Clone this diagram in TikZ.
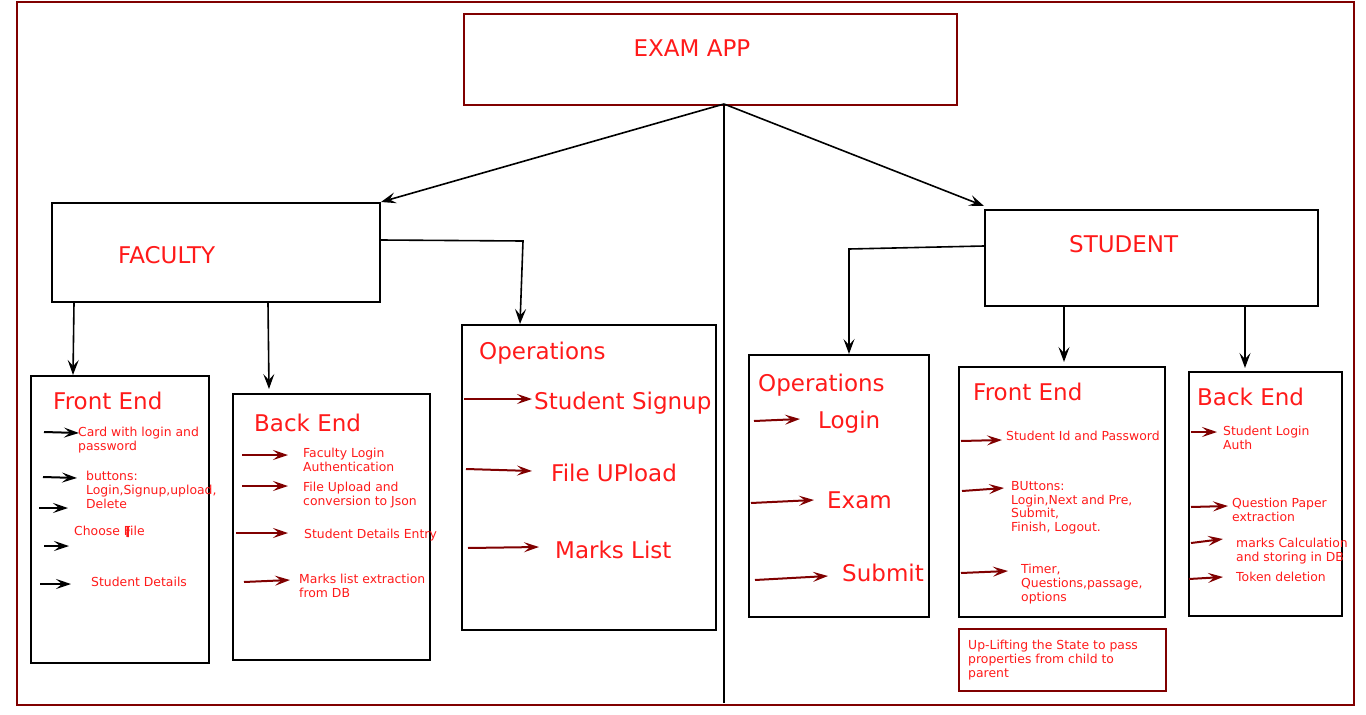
\documentclass[tikz,border=0pt]{standalone}
\usepackage{fontspec}
\setmainfont{DejaVu Sans}
\usepackage{xcolor}
\usetikzlibrary{arrows.meta}

\begin{document}
\begin{tikzpicture}[x=1pt, y=-1pt,
    box/.style={draw=black, line width=2pt, inner sep=0pt},
    redbox/.style={draw=darkred, line width=2pt, inner sep=0pt},
    title/.style={text=txtred, font=\fontsize{23}{27}\selectfont, inner sep=0pt, anchor=base west},
    note/.style={text=txtred, font=\fontsize{12.4}{13.8}\selectfont, inner sep=0pt, anchor=north west, align=left},
    link/.style={line width=1.6pt, -{Stealth[length=15pt, width=11pt, inset=6pt]}},
    tick/.style={line width=2pt, darkred, -{Stealth[length=15pt, width=10pt, inset=6pt]}}]

    % 色の設定
    \definecolor{darkred}{HTML}{800000}
    \definecolor{txtred}{HTML}{FF1A1A}
    \useasboundingbox (0,0) rectangle (1366,715);

    % 外枠
    \draw[darkred, line width=2pt] (17,2) rectangle (1354,705);

    % 上の三つの箱
    \node[redbox, minimum width=493pt, minimum height=91pt] (app) at (710.5,59.5) {};
    \node[title, anchor=base] (appT) at (692,56.4) {EXAM APP};
    \node[box, minimum width=328pt, minimum height=99pt] (fac) at (216,252.5) {};
    \node[title] (facT) at (118,263.4) {FACULTY};
    \node[box, minimum width=333pt, minimum height=96pt] (stu) at (1151.5,258) {};
    \node[title] (stuT) at (1069,252.4) {STUDENT};

    % 下の箱 (FACULTY 側)
    \node[box, minimum width=178pt, minimum height=287pt] (ffront) at (120,519.5) {};
    \node[title] (ffrontT) at (53,409.4) {Front End};
    \node[box, minimum width=197pt, minimum height=266pt] (fback) at (331.5,527) {};
    \node[title] (fbackT) at (254,431.4) {Back End};
    \node[box, minimum width=254pt, minimum height=305pt] (fops) at (589,477.5) {};
    \node[title] (fopsT) at (479,359.4) {Operations};

    % 下の箱 (STUDENT 側)
    \node[box, minimum width=180pt, minimum height=262pt] (sops) at (839,486) {};
    \node[title] (sopsT) at (758,391.4) {Operations};
    \node[box, minimum width=206pt, minimum height=250pt] (sfront) at (1062,492) {};
    \node[title] (sfrontT) at (973,400.4) {Front End};
    \node[box, minimum width=153pt, minimum height=244pt] (sback) at (1265.5,494) {};
    \node[title] (sbackT) at (1197,405.4) {Back End};
    \node[redbox, minimum width=207pt, minimum height=62pt] (lift) at (1062.5,660) {};
    \node[note] (liftT) at (968,640) {Up-Lifting the State to pass\\properties from child to\\parent};

    % 中央の縦線と上からの矢印
    \coordinate (appfoot) at (724,104);
    \coordinate (axisend) at (724,703);
    \draw[line width=2pt] (appfoot) -- (axisend);
    \draw[link] (appfoot) -- (fac.north east);
    \draw[link] (appfoot) -- ([yshift=3pt]stu.north west);

    % FACULTY からの矢印
    \coordinate (fbend) at (523,241);
    \draw[link] ([xshift=23pt]fac.south west) -- ([xshift=43pt]ffront.north west);
    \draw[link] ([xshift=217pt]fac.south west) -- ([xshift=37pt, yshift=4pt]fback.north west);
    \draw[link] ([yshift=12.5pt]fac.east) -- (fbend) -- ([xshift=59pt]fops.north west);

    % STUDENT からの矢印
    \coordinate (sbend) at (849,249);
    \draw[link] ([yshift=12pt]stu.west) -- (sbend) -- ([xshift=101pt]sops.north west);
    \draw[link] ([xshift=80pt]stu.south west) -- ([xshift=106pt, yshift=4pt]sfront.north west);
    \draw[link] ([xshift=261pt]stu.south west) -- ([xshift=57pt, yshift=3pt]sback.north west);

    % FACULTY の Front End (黒い矢印)
    \foreach \n/\xa/\ya/\xb/\yb in {1/44/432/79/433, 2/43/477/77/478, 3/39/508/68/508, 4/44/546/69/546, 5/40/584/71/584}{
        \coordinate (ff\n a) at (\xa,\ya);
        \coordinate (ff\n b) at (\xb,\yb);
        \draw[tick, black] (ff\n a) -- (ff\n b);
    }
    \foreach \n/\xt/\yt/\txt in {1/78/432/{Card with login and\\password}, 2/86/476/{buttons:\\Login,Signup,upload,\\Delete}, 3/74/531/{Choose File}, 4/91/582/{Student Details}}
        \node[note] (ff\n t) at (\xt,\yt-5) {\txt};
    \draw[txtred, line width=2.5pt] (128,527) -- (127.5,537); % カーソル

    % FACULTY の Back End
    \foreach \n/\xa/\ya/\xb/\yb/\xt/\yt/\txt in {1/242/455/288/455/303/453/{Faculty Login\\Authentication}, 2/242/486/288/486/303/487/{File Upload and\\conversion to Json}, 3/236/533/288/533/304/534/{Student Details Entry}, 4/244/582/290/580/299/579/{Marks list extraction\\from DB}}{
        \coordinate (fb\n a) at (\xa,\ya);
        \coordinate (fb\n b) at (\xb,\yb);
        \draw[tick] (fb\n a) -- (fb\n b);
        \node[note] (fb\n t) at (\xt,\yt-5) {\txt};
    }

    % FACULTY の Operations
    \foreach \n/\xa/\ya/\xb/\yb/\xt/\yt/\txt in {1/464/399/532/399/534/401/{Student Signup}, 2/466/469/532/471/551/473/{File UPload}, 3/468/548/539/547/555/550/{Marks List}}{
        \coordinate (fo\n a) at (\xa,\ya);
        \coordinate (fo\n b) at (\xb,\yb);
        \draw[tick] (fo\n a) -- (fo\n b);
        \node[title] (fo\n t) at (\xt,\yt+8.4) {\txt};
    }

    % STUDENT の Operations
    \foreach \n/\xa/\ya/\xb/\yb/\xt/\yt/\txt in {1/754/421/800/419/818/420/{Login}, 2/751/503/814/500/827/500/{Exam}, 3/755/580/828/576/842/573/{Submit}}{
        \coordinate (so\n a) at (\xa,\ya);
        \coordinate (so\n b) at (\xb,\yb);
        \draw[tick] (so\n a) -- (so\n b);
        \node[title] (so\n t) at (\xt,\yt+8.4) {\txt};
    }

    % STUDENT の Front End
    \foreach \n/\xa/\ya/\xb/\yb/\xt/\yt/\txt in {1/961/441/1002/440/1006/436/{Student Id and Password}, 2/962/491/1004/488/1011/486/{BUttons:\\Login,Next and Pre,\\Submit,\\Finish, Logout.}, 3/961/573/1008/571/1021/569/{Timer,\\Questions,passage,\\options}}{
        \coordinate (sf\n a) at (\xa,\ya);
        \coordinate (sf\n b) at (\xb,\yb);
        \draw[tick] (sf\n a) -- (sf\n b);
        \node[note] (sf\n t) at (\xt,\yt-5) {\txt};
    }

    % STUDENT の Back End
    \foreach \n/\xa/\ya/\xb/\yb/\xt/\yt/\txt in {1/1191/432/1217/432/1223/431/{Student Login\\Auth}, 2/1191/507/1228/506/1232/503/{Question Paper\\extraction}, 3/1191/543/1223/539/1236/543/{marks Calculation\\and storing in DB}, 4/1189/579/1223/577/1236/577/{Token deletion}}{
        \coordinate (sb\n a) at (\xa,\ya);
        \coordinate (sb\n b) at (\xb,\yb);
        \draw[tick] (sb\n a) -- (sb\n b);
        \node[note] (sb\n t) at (\xt,\yt-5) {\txt};
    }

\end{tikzpicture}
\end{document}
